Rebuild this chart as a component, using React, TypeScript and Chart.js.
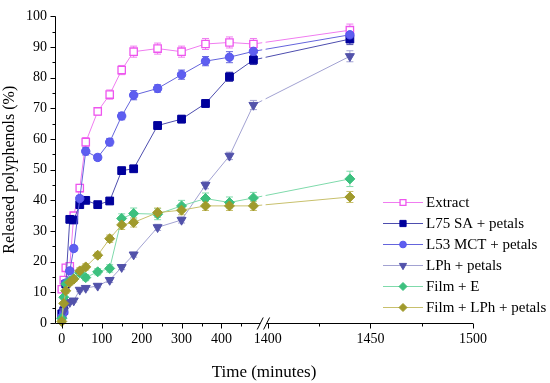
import React, { useEffect, useRef } from 'react';
import { Chart, registerables } from 'chart.js';
import { drawPoint } from 'chart.js/helpers';

Chart.register(...registerables);

// ---- data ----
const times = [0, 5, 10, 20, 30, 45, 60, 90, 120, 150, 180, 240, 300, 360, 420, 480, 1440];

const seriesNames = ['Extract', 'L75 SA + petals', 'L53 MCT + petals', 'LPh + petals', 'Film + E', 'Film + LPh + petals'];

const extract = [11, 14, 18, 18.5, 35, 44, 59, 69, 74.5, 82.5, 88.5, 89.5, 88.5, 91, 91.5, 91, 95.5];
const l75 = [3, 4, 12.7, 33.8, 33.6, 38.6, 40, 38.6, 39.8, 49.7, 50.3, 64.4, 66.5, 71.6, 80.3, 85.8, 92.6];
const l53 = [2, 3.5, 13, 17, 24.3, 40.6, 56, 54, 59, 67.5, 74.3, 76.5, 81, 85.4, 86.7, 88.6, 94];
const lph = [0.9, 4, 6.2, 6.8, 7.3, 10.8, 11.4, 12.1, 14, 18.2, 22.3, 31.2, 33.6, 45, 54.5, 71.1, 87];
const filmE = [1.5, 8.4, 12.7, 13.7, 14.5, 16.4, 14.8, 16.7, 17.8, 34.1, 35.7, 35.5, 38.2, 40.6, 39.3, 40.8, 47];
const filmLPh = [0.5, 6.4, 10.5, 13.2, 14.3, 17, 18.3, 22.1, 27.5, 32, 32.8, 36, 36.8, 38.2, 38.2, 38.2, 41.1];

const errExtract = [0.5, 0.5, 1, 1, 1, 1.2, 1.5, 1.2, 1.5, 1.5, 1.8, 1.8, 1.8, 1.8, 1.8, 1.8, 2];
const errL75 = [0.5, 0.5, 0.8, 0.8, 0.8, 1, 1, 0.8, 1, 1, 1, 1.2, 1.2, 1.2, 1.5, 1.5, 1.8];
const errL53 = [0.5, 0.5, 0.8, 0.8, 1, 1, 1.2, 1, 1.2, 1.2, 1.5, 1.2, 1.5, 1.5, 1.8, 1.8, 2];
const errLph = [0.3, 0.3, 0.5, 0.5, 0.5, 0.6, 0.6, 0.6, 0.8, 0.8, 0.8, 1, 1, 1.2, 1.2, 1.5, 1.8];
const errFilmE = [0.5, 0.5, 0.8, 0.8, 0.8, 1, 1, 1, 1.2, 1.5, 1.8, 1.8, 1.8, 1.8, 1.8, 1.8, 2.5];
const errFilmLPh = [0.3, 0.5, 0.8, 0.8, 0.8, 1, 1, 1, 1.2, 1.5, 1.5, 1.5, 1.5, 1.5, 1.5, 1.5, 1.8];

const xMajorTicks = [0, 100, 200, 300, 400, 1400, 1450, 1500];
const xMajorLabels = ['0', '100', '200', '300', '400', '1400', '1450', '1500'];
const xMinorTicks = [50, 150, 250, 350, 450, 1425, 1475];
const yMajorTicks = [0, 10, 20, 30, 40, 50, 60, 70, 80, 90, 100];
const yMinorTicks = [5, 15, 25, 35, 45, 55, 65, 75, 85, 95];

// ---- broken axis mapping ----
const LEFT_END = 500;
const RIGHT_START = 1400;
const RIGHT_OFFSET = 516;
const RIGHT_FACTOR = 5.14;
const toAxis = (t: number) => (t <= LEFT_END ? t : RIGHT_OFFSET + (t - RIGHT_START) * RIGHT_FACTOR);
const BREAK_AXIS_A = 497;
const BREAK_AXIS_B = 513;

const styles = [
  { color: '#ee55ee', line: '#f07cf0', point: 'rect', fill: '#ffffff', r: 5.2, rot: 0 },
  { color: '#00009c', line: '#4d4dae', point: 'rect', fill: '#00009c', r: 5.5, rot: 0 },
  { color: '#5656ee', line: '#6464dc', point: 'circle', fill: '#5e5ef0', r: 4.2, rot: 0 },
  { color: '#5252aa', line: '#a2a2d2', point: 'triangle', fill: '#5252aa', r: 5.2, rot: 180 },
  { color: '#3cc07e', line: '#7fdaab', point: 'rectRot', fill: '#3cc07e', r: 5, rot: 0 },
  { color: '#a09a2c', line: '#c8c06c', point: 'rectRot', fill: '#a09a2c', r: 5, rot: 0 },
];

const allValues = [extract, l75, l53, lph, filmE, filmLPh];
const allErrors = [errExtract, errL75, errL53, errLph, errFilmE, errFilmLPh];

const FONT = "'Liberation Serif', 'Times New Roman', serif";

const customPlugin = {
  id: 'custom',
  beforeDatasetsDraw(chart: any) {
    const ctx = chart.ctx;
    const y = chart.scales.y;
    ctx.save();
    chart.data.datasets.forEach((ds: any, di: number) => {
      const meta = chart.getDatasetMeta(di);
      const errs = allErrors[di];
      ctx.strokeStyle = styles[di].line;
      ctx.lineWidth = 1;
      meta.data.forEach((pt: any, i: number) => {
        const v = allValues[di][i];
        const e = errs[i];
        const y1 = y.getPixelForValue(v + e);
        const y2 = y.getPixelForValue(v - e);
        if (y2 - y1 < 2) return;
        ctx.beginPath();
        ctx.moveTo(pt.x, y1);
        ctx.lineTo(pt.x, y2);
        ctx.moveTo(pt.x - 3.5, y1);
        ctx.lineTo(pt.x + 3.5, y1);
        ctx.moveTo(pt.x - 3.5, y2);
        ctx.lineTo(pt.x + 3.5, y2);
        ctx.stroke();
      });
    });
    ctx.restore();
  },
  afterDatasetsDraw(chart: any) {
    const ctx = chart.ctx;
    const x = chart.scales.x;
    const area = chart.chartArea;
    const xa = x.getPixelForValue(BREAK_AXIS_A) + 2;
    const xb = x.getPixelForValue(BREAK_AXIS_B) - 1;
    ctx.save();
    ctx.fillStyle = '#ffffff';
    ctx.fillRect(xa, area.top, xb - xa, area.bottom - area.top - 1);
    ctx.restore();
  },
  afterDraw(chart: any) {
    const ctx = chart.ctx;
    const x = chart.scales.x;
    const y = chart.scales.y;
    const area = chart.chartArea;
    const bottom = Math.round(area.bottom) + 0.5;
    const left = Math.round(area.left) + 0.5;
    ctx.save();
    ctx.strokeStyle = '#000000';
    ctx.lineWidth = 1;
    // y axis
    ctx.beginPath();
    ctx.moveTo(left, area.top);
    ctx.lineTo(left, bottom);
    yMajorTicks.forEach((v) => {
      const p = Math.round(y.getPixelForValue(v)) + 0.5;
      ctx.moveTo(left, p);
      ctx.lineTo(left - 5, p);
    });
    yMinorTicks.forEach((v) => {
      const p = Math.round(y.getPixelForValue(v)) + 0.5;
      ctx.moveTo(left, p);
      ctx.lineTo(left - 3, p);
    });
    // x axis (broken)
    const xa = x.getPixelForValue(BREAK_AXIS_A);
    const xb = x.getPixelForValue(BREAK_AXIS_B);
    ctx.moveTo(left, bottom);
    ctx.lineTo(xa, bottom);
    ctx.moveTo(xb, bottom);
    ctx.lineTo(area.right, bottom);
    xMajorTicks.forEach((t) => {
      const p = Math.round(x.getPixelForValue(toAxis(t))) + 0.5;
      ctx.moveTo(p, bottom);
      ctx.lineTo(p, bottom + 5);
    });
    xMinorTicks.forEach((t) => {
      const p = Math.round(x.getPixelForValue(toAxis(t))) + 0.5;
      ctx.moveTo(p, bottom);
      ctx.lineTo(p, bottom + 3);
    });
    // break marks
    ctx.moveTo(xa - 3, bottom + 6);
    ctx.lineTo(xa + 3, bottom - 6);
    ctx.moveTo(xb - 3, bottom + 6);
    ctx.lineTo(xb + 3, bottom - 6);
    ctx.stroke();

    // legend
    const lx0 = 383;
    const lx1 = 423;
    const lmx = 403;
    const ltx = 426;
    const ly0 = 202;
    const dy = 21;
    ctx.font = `15px ${FONT}`;
    ctx.textBaseline = 'middle';
    ctx.textAlign = 'left';
    seriesNames.forEach((name, i) => {
      const s = styles[i];
      const ly = ly0 + i * dy + 0.5;
      ctx.strokeStyle = s.line;
      ctx.lineWidth = 1;
      ctx.beginPath();
      ctx.moveTo(lx0, ly);
      ctx.lineTo(lx1, ly);
      ctx.stroke();
      ctx.fillStyle = s.fill;
      ctx.strokeStyle = s.color;
      ctx.lineWidth = i === 0 ? 1.3 : 1;
      drawPoint(ctx, { pointStyle: s.point, radius: s.r * 0.8, rotation: s.rot, borderWidth: i === 0 ? 1.3 : 1 }, lmx, ly);
      ctx.fillStyle = '#000000';
      ctx.fillText(name, ltx, ly + 1);
    });
    ctx.restore();
  },
};

export default function App() {
  const ref = useRef<HTMLCanvasElement | null>(null);
  useEffect(() => {
    if (!ref.current) return;
    const datasets = seriesNames.map((name, i) => ({
      label: name,
      data: times.map((t, j) => ({ x: toAxis(t), y: allValues[i][j] })),
      borderColor: styles[i].line,
      borderWidth: 1,
      pointStyle: styles[i].point,
      pointRotation: styles[i].rot,
      pointRadius: styles[i].r,
      pointBackgroundColor: styles[i].fill,
      pointBorderColor: styles[i].color,
      pointBorderWidth: i === 0 ? 1.3 : 1,
      tension: 0,
      clip: false as any,
      order: 6 - i,
    }));
    const chart = new Chart(ref.current, {
      type: 'line',
      data: { datasets },
      options: {
        animation: false,
        responsive: false,
        maintainAspectRatio: false,
        layout: { padding: { top: 12, right: 77, left: 0, bottom: 0 } },
        plugins: { legend: { display: false }, tooltip: { enabled: false } },
        scales: {
          x: {
            type: 'linear',
            min: -17,
            max: 1030,
            grid: { display: false, drawTicks: false },
            border: { display: false },
            afterBuildTicks: (scale: any) => {
              scale.ticks = xMajorTicks.map((t) => ({ value: toAxis(t) }));
            },
            afterFit: (scale: any) => {
              scale.height = 60;
            },
            ticks: {
              autoSkip: false,
              maxRotation: 0,
              padding: 8,
              color: '#000000',
              font: { family: FONT, size: 14 },
              callback: (_v: any, idx: number) => xMajorLabels[idx],
            },
            title: {
              display: true,
              text: 'Time (minutes)',
              color: '#000000',
              font: { family: FONT, size: 17 },
              padding: { top: 8, bottom: 0 },
            },
          },
          y: {
            type: 'linear',
            min: 0,
            max: 100,
            grid: { display: false, drawTicks: false },
            border: { display: false },
            afterBuildTicks: (scale: any) => {
              scale.ticks = yMajorTicks.map((v) => ({ value: v }));
            },
            afterFit: (scale: any) => {
              scale.width = 55;
            },
            ticks: {
              autoSkip: false,
              padding: 8,
              color: '#000000',
              font: { family: FONT, size: 14 },
            },
            title: {
              display: true,
              text: 'Released polyphenols (%)',
              color: '#000000',
              font: { family: FONT, size: 16 },
              padding: { top: 0, bottom: 2 },
            },
          },
        },
      },
      plugins: [customPlugin],
    });
    return () => chart.destroy();
  }, []);
  return (
    <div style={{ position: 'fixed', left: 0, top: 0, width: 550, height: 383, background: '#fff' }}>
      <canvas ref={ref} width={550} height={383} style={{ width: 550, height: 383 }} />
    </div>
  );
}
